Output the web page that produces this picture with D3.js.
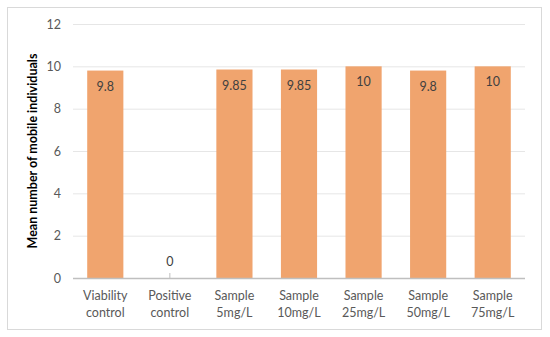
<!DOCTYPE html>
<html><head><meta charset="utf-8">
<script src="https://cdn.jsdelivr.net/npm/d3@7"></script>
<style>body{margin:0;background:#fff}svg{display:block}text{font-family:Lato,"Open Sans",sans-serif}</style>
</head><body>
<svg id="c" width="550" height="337"></svg>
<script>
const categories = [["Viability","control"],["Positive","control"],["Sample","5mg/L"],["Sample","10mg/L"],["Sample","25mg/L"],["Sample","50mg/L"],["Sample","75mg/L"]];
const values = [9.8, 0, 9.85, 9.85, 10, 9.8, 10];
const labels = ["9.8","0","9.85","9.85","10","9.8","10"];
const yTicks = [0,2,4,6,8,10,12];
const yTitle = "Mean number of mobile individuals";

const svg = d3.select("#c");
const m = {l:73, r:525, t:24, b:278};
svg.append("rect").attr("x",7.5).attr("y",7.5).attr("width",534).attr("height",322)
  .attr("fill","#fff").attr("stroke","#d9d9d9");
const x = d3.scaleBand().domain(d3.range(categories.length)).range([m.l,m.r]).paddingInner(0.44).paddingOuter(0.22);
const y = d3.scaleLinear().domain([0,12]).range([m.b,m.t]);

const ga = svg.append("g").attr("transform",`translate(${m.l},0)`)
  .call(d3.axisLeft(y).tickValues(yTicks).tickSize(-(m.r-m.l)).tickPadding(12));
ga.select(".domain").remove();
ga.selectAll(".tick line").attr("stroke","#e6e6e6");
ga.selectAll(".tick text").attr("fill","#595959").style("font-size","12.5px");

svg.selectAll("rect.bar").data(values).join("rect").attr("class","bar")
  .attr("x",(d,i)=>x(i)).attr("width",x.bandwidth())
  .attr("y",d=>y(d)).attr("height",d=>y(0)-y(d)).attr("fill","#F0A46E");

svg.append("line").attr("x1",m.l).attr("x2",m.r).attr("y1",y(0)+0.5).attr("y2",y(0)+0.5).attr("stroke","#bfbfbf").attr("stroke-width",1.5);
svg.selectAll("line.z").data(values.map((v,i)=>[v,i]).filter(d=>d[0]===0)).join("line").attr("class","z")
  .attr("x1",d=>x(d[1])+x.bandwidth()/2).attr("x2",d=>x(d[1])+x.bandwidth()/2)
  .attr("y1",y(0)-5).attr("y2",y(0)).attr("stroke","#bfbfbf");

svg.selectAll("text.val").data(values).join("text").attr("class","val")
  .attr("x",(d,i)=>x(i)+x.bandwidth()/2)
  .attr("y",d=> d===0 ? y(0)-12 : y(d)+20)
  .attr("text-anchor","middle").attr("fill","#404040").style("font-size","12.5px")
  .text((d,i)=>labels[i]);

const xl = svg.selectAll("text.xl").data(categories).join("text").attr("class","xl")
  .attr("x",(d,i)=>x(i)+x.bandwidth()/2).attr("y",300)
  .attr("text-anchor","middle").attr("fill","#595959").style("font-size","12.5px");
xl.append("tspan").attr("x",(d,i)=>x(i)+x.bandwidth()/2).text(d=>d[0]);
xl.append("tspan").attr("x",(d,i)=>x(i)+x.bandwidth()/2).attr("dy",17).text(d=>d[1]);

svg.append("text").attr("transform",`translate(37,${(m.t+m.b)/2}) rotate(-90)`)
  .attr("text-anchor","middle").attr("font-weight","bold").style("font-size","12.5px").attr("fill","#000")
  .text(yTitle);
</script>
</body></html>
